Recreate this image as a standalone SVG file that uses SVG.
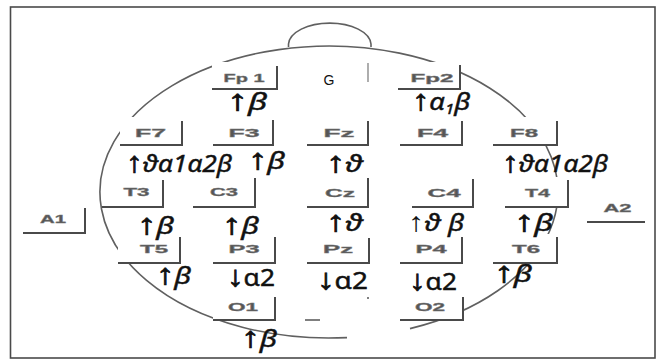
<svg xmlns="http://www.w3.org/2000/svg" width="657" height="360" viewBox="0 0 657 360">
<style>
.frame{fill:#fff;stroke:#4a4a4a;stroke-width:1.6}
.head{fill:none;stroke:#606060;stroke-width:1.6}
.bf{fill:#fff;stroke:none}
.bx{fill:none;stroke:#4a4a4a;stroke-width:2}
.bt{font-family:"Liberation Sans",Arial,sans-serif;font-weight:bold;font-size:11.5px;fill:#555;stroke:#777;stroke-width:0.4}
.lb{font-family:"Noto Sans","DejaVu Sans",sans-serif;font-size:23px;fill:#111;stroke:#111;stroke-width:0.45}
.ar{font-family:"Liberation Sans",Arial,sans-serif;font-weight:bold;font-size:29px;stroke-width:0.8}
.arn{font-family:"Liberation Sans",Arial,sans-serif;font-weight:normal;font-size:27px;stroke:none}
.it{font-style:italic}
</style>
<rect class="frame" x="10.5" y="7" width="644.5" height="351"/>
<g id="head">
<path class="head" d="M410,328.6 A229,146 0 1 0 347,337.6"/>
<path class="head" d="M288.5,47 V44 A41.3,22 0 0 1 371,44 V47"/>
<line x1="368" y1="63" x2="368" y2="82" stroke="#777" stroke-width="1.2"/>
<line x1="305" y1="320" x2="320" y2="320" stroke="#555" stroke-width="1.5"/>
<circle cx="368" cy="298" r="1" fill="#555"/>
</g>
<g id="G"><text x="329" y="85" font-family="Liberation Sans,Arial,sans-serif" font-size="14" text-anchor="middle" fill="#111">G</text></g>
<g id="Fp1"><rect class="bf" x="212" y="62" width="65" height="27"/><path class="bx" d="M212,89 H277 V66"/><text class="bt" x="223.5" y="82" textLength="41" lengthAdjust="spacingAndGlyphs">Fp 1</text></g>
<g id="Fp2"><rect class="bf" x="398" y="62" width="62" height="27"/><path class="bx" d="M398,89 H460 V65"/><text class="bt" x="410.5" y="82" textLength="43" lengthAdjust="spacingAndGlyphs">Fp2</text></g>
<g id="F7"><rect class="bf" x="120" y="117" width="62" height="28"/><path class="bx" d="M120,145 H182 V121"/><text class="bt" x="135" y="137" textLength="31" lengthAdjust="spacingAndGlyphs">F7</text></g>
<g id="F3"><rect class="bf" x="213" y="117" width="60" height="28"/><path class="bx" d="M213,145 H273 V120"/><text class="bt" x="228.5" y="137" textLength="31" lengthAdjust="spacingAndGlyphs">F3</text></g>
<g id="Fz"><rect class="bf" x="307" y="117" width="61" height="28"/><path class="bx" d="M307,145 H368 V121"/><text class="bt" x="323.5" y="137" textLength="31" lengthAdjust="spacingAndGlyphs">Fz</text></g>
<g id="F4"><rect class="bf" x="400" y="117" width="62" height="28"/><path class="bx" d="M400,145 H462 V121"/><text class="bt" x="417" y="137" textLength="31" lengthAdjust="spacingAndGlyphs">F4</text></g>
<g id="F8"><rect class="bf" x="493" y="117" width="64" height="28"/><path class="bx" d="M493,145 H557 V121"/><text class="bt" x="510" y="137" textLength="28" lengthAdjust="spacingAndGlyphs">F8</text></g>
<g id="T3"><rect class="bf" x="102" y="177" width="61" height="30"/><path class="bx" d="M102,207 H163 V180"/><text class="bt" x="123.5" y="196" textLength="26" lengthAdjust="spacingAndGlyphs">T3</text></g>
<g id="C3"><rect class="bf" x="193" y="176" width="62" height="31"/><path class="bx" d="M193,207 H255 V178"/><text class="bt" x="210" y="196" textLength="28" lengthAdjust="spacingAndGlyphs">C3</text></g>
<g id="Cz"><rect class="bf" x="307" y="176" width="61" height="31"/><path class="bx" d="M307,207 H368 V178"/><text class="bt" x="325" y="197" textLength="30" lengthAdjust="spacingAndGlyphs">Cz</text></g>
<g id="C4"><rect class="bf" x="412" y="176" width="61" height="31"/><path class="bx" d="M412,207 H473 V179"/><text class="bt" x="427.5" y="197" textLength="33" lengthAdjust="spacingAndGlyphs">C4</text></g>
<g id="T4"><rect class="bf" x="505" y="177" width="63" height="30"/><path class="bx" d="M505,207 H568 V180"/><text class="bt" x="525" y="197" textLength="25" lengthAdjust="spacingAndGlyphs">T4</text></g>
<g id="A1"><path class="bx" d="M23,233 H85 V208"/><text class="bt" x="40" y="223" textLength="26" lengthAdjust="spacingAndGlyphs">A1</text></g>
<g id="A2"><path class="bx" d="M587,222 H645"/><text class="bt" x="603.5" y="212" textLength="28" lengthAdjust="spacingAndGlyphs">A2</text></g>
<g id="T5"><rect class="bf" x="118" y="234" width="62" height="29"/><path class="bx" d="M118,263 H180 V237"/><text class="bt" x="140" y="253" textLength="28" lengthAdjust="spacingAndGlyphs">T5</text></g>
<g id="P3"><rect class="bf" x="213" y="234" width="62" height="29"/><path class="bx" d="M213,263 H275 V237"/><text class="bt" x="228.5" y="253" textLength="31" lengthAdjust="spacingAndGlyphs">P3</text></g>
<g id="Pz"><rect class="bf" x="307" y="234" width="62" height="29"/><path class="bx" d="M307,263 H369 V238"/><text class="bt" x="323" y="253" textLength="30" lengthAdjust="spacingAndGlyphs">Pz</text></g>
<g id="P4"><rect class="bf" x="400" y="234" width="62" height="29"/><path class="bx" d="M400,263 H462 V237"/><text class="bt" x="415.5" y="253" textLength="31" lengthAdjust="spacingAndGlyphs">P4</text></g>
<g id="T6"><rect class="bf" x="493" y="234" width="64" height="29"/><path class="bx" d="M493,263 H557 V237"/><text class="bt" x="512" y="253" textLength="28" lengthAdjust="spacingAndGlyphs">T6</text></g>
<g id="O1"><rect class="bf" x="213" y="294" width="62" height="26"/><path class="bx" d="M213,320 H275 V297"/><text class="bt" x="228" y="311" textLength="30" lengthAdjust="spacingAndGlyphs">O1</text></g>
<g id="O2"><rect class="bf" x="400" y="294" width="63" height="26"/><path class="bx" d="M400,320 H463 V297"/><text class="bt" x="415" y="311" textLength="30" lengthAdjust="spacingAndGlyphs">O2</text></g>
<g id="labels">
<text class="lb" x="227" y="110" textLength="40" lengthAdjust="spacingAndGlyphs"><tspan class="ar">↑</tspan><tspan class="it">β</tspan></text>
<text class="lb" x="412" y="110" textLength="58" lengthAdjust="spacingAndGlyphs"><tspan class="ar">↑</tspan><tspan class="it">α</tspan><tspan class="it" font-size="14" dy="4">1</tspan><tspan class="it" dy="-4">β</tspan></text>
<text class="lb" x="126" y="172" textLength="106" lengthAdjust="spacingAndGlyphs"><tspan class="ar">↑</tspan><tspan class="it">ϑα1α2β</tspan></text>
<text class="lb" x="248" y="169" textLength="37" lengthAdjust="spacingAndGlyphs"><tspan class="ar">↑</tspan><tspan class="it">β</tspan></text>
<text class="lb" x="326" y="172" textLength="37" lengthAdjust="spacingAndGlyphs"><tspan class="ar">↑</tspan><tspan class="it">ϑ</tspan></text>
<text class="lb" x="502" y="172" textLength="106" lengthAdjust="spacingAndGlyphs"><tspan class="ar">↑</tspan><tspan class="it">ϑα1α2β</tspan></text>
<text class="lb" x="137" y="234" textLength="37" lengthAdjust="spacingAndGlyphs"><tspan class="ar">↑</tspan><tspan class="it">β</tspan></text>
<text class="lb" x="222" y="234" textLength="37" lengthAdjust="spacingAndGlyphs"><tspan class="ar">↑</tspan><tspan class="it">β</tspan></text>
<text class="lb" x="326" y="231" textLength="37" lengthAdjust="spacingAndGlyphs"><tspan class="ar">↑</tspan><tspan class="it">ϑ</tspan></text>
<text class="lb" x="408" y="231" textLength="56" lengthAdjust="spacingAndGlyphs"><tspan class="arn">↑</tspan><tspan class="it">ϑ β</tspan></text>
<text class="lb" x="514" y="231" textLength="39" lengthAdjust="spacingAndGlyphs"><tspan class="ar">↑</tspan><tspan class="it">β</tspan></text>
<text class="lb" x="156" y="284" textLength="35" lengthAdjust="spacingAndGlyphs"><tspan class="ar">↑</tspan><tspan class="it">β</tspan></text>
<text class="lb" x="227" y="286" textLength="48" lengthAdjust="spacingAndGlyphs"><tspan class="ar">↓</tspan>α2</text>
<text class="lb" x="317" y="289" textLength="51" lengthAdjust="spacingAndGlyphs"><tspan class="ar">↓</tspan>α2</text>
<text class="lb" x="409" y="290" textLength="48" lengthAdjust="spacingAndGlyphs"><tspan class="ar">↓</tspan>α2</text>
<text class="lb" x="494" y="282" textLength="38" lengthAdjust="spacingAndGlyphs"><tspan class="ar">↑</tspan><tspan class="it">β</tspan></text>
<text class="lb" x="241" y="347" textLength="36" lengthAdjust="spacingAndGlyphs"><tspan class="ar">↑</tspan><tspan class="it">β</tspan></text>
</g>
</svg>
